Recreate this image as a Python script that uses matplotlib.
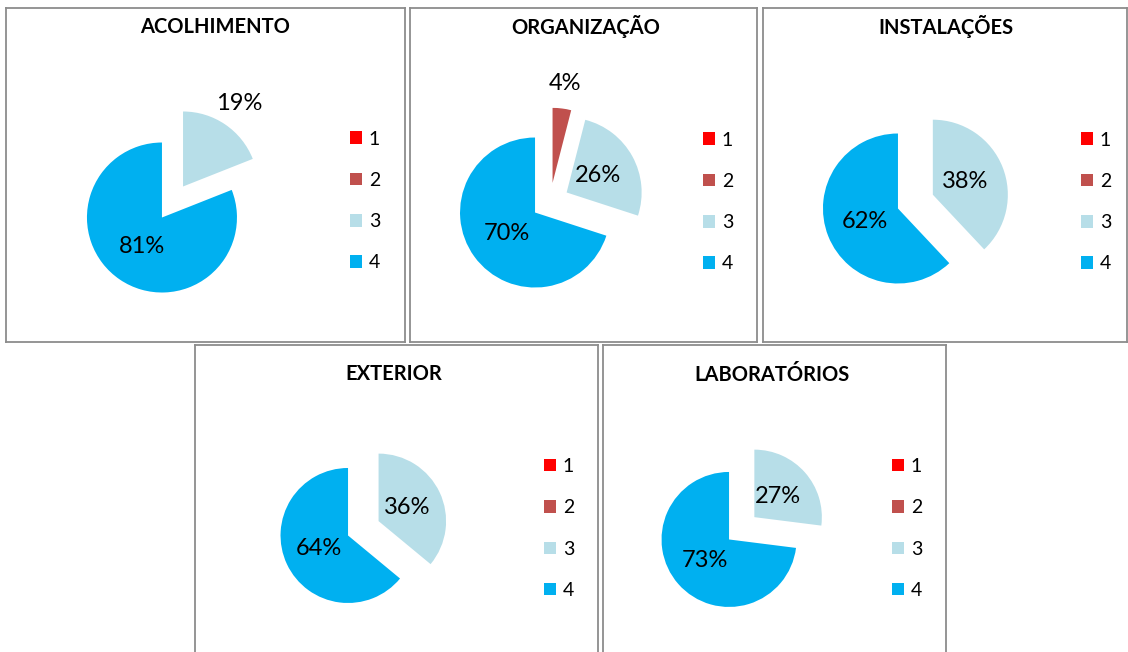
import matplotlib
matplotlib.use("Agg")
import matplotlib.pyplot as plt
import numpy as np

plt.rcParams['font.family'] = ['Lato', 'DejaVu Sans']

# data: share of answers 1..4 per topic (percent)
categories = ["1", "2", "3", "4"]
titles = ["ACOLHIMENTO", "ORGANIZAÇÃO", "INSTALAÇÕES", "EXTERIOR", "LABORATÓRIOS"]
acolhimento = [0, 0, 19, 81]
organizacao = [0, 4, 26, 70]
instalacoes = [0, 0, 38, 62]
exterior = [0, 0, 36, 64]
laboratorios = [0, 0, 27, 73]
series = [acolhimento, organizacao, instalacoes, exterior, laboratorios]

colors = ["#FF0000", "#C0504D", "#B7DEE8", "#00B0F0"]

W, H = 1128, 652
# panel boxes in pixels (x0, y0 top, x1, y1 bottom), pie centre, radius, title pos, legend x / centre y
panels = [
    dict(box=(6, 8, 405, 342), c=(172.5, 202), r=75, t=(215, 27), lx=350, ly=201),
    dict(box=(410, 8, 757, 342), c=(550.2, 201.5), r=75, t=(586, 27), lx=703, ly=202),
    dict(box=(763, 8, 1127, 342), c=(915.4, 201.6), r=75, t=(946, 27), lx=1081, ly=202),
    dict(box=(195, 345, 598, 662), c=(363.3, 528.3), r=67.5, t=(394, 374), lx=544, ly=528.5),
    dict(box=(603, 345, 946, 662), c=(741.7, 528.3), r=67.5, t=(772, 375), lx=892, ly=528.5),
]

fig = plt.figure(figsize=(W / 100, H / 100), dpi=100)

for p, title, vals in zip(panels, titles, series):
    x0, y0, x1, y1 = p["box"]
    ax = fig.add_axes([x0 / W, (H - y1) / H, (x1 - x0) / W, (y1 - y0) / H])
    r = p["r"]
    cx, cy = p["c"][0], H - p["c"][1]
    wedges, _ = ax.pie(vals, colors=colors, explode=[0.25 * r] * 4, radius=r,
                       center=(cx, cy), startangle=90, counterclock=False,
                       wedgeprops=dict(linewidth=0), frame=True)
    ax.set_aspect("auto")
    ax.set_xlim(x0, x1)
    ax.set_ylim(H - y1, H - y0)
    ax.set_xticks([])
    ax.set_yticks([])
    for s in ax.spines.values():
        s.set_color("#8c8c8c")
        s.set_linewidth(1.3)

    # percentage labels
    for w, v in zip(wedges, vals):
        if v == 0:
            continue
        ang = np.deg2rad((w.theta1 + w.theta2) / 2)
        k = 1.33 if v < 20 else 0.47
        wx, wy = w.center
        ax.text(wx + k * r * np.cos(ang), wy + k * r * np.sin(ang), f"{v}%",
                ha="center", va="center", fontsize=17, color="black")

    ax.text(p["t"][0], H - p["t"][1], title, ha="center", va="center",
            fontsize=14.5, fontweight="bold")

    ax.legend(wedges, categories, loc="center left",
              bbox_to_anchor=(p["lx"], H - p["ly"]),
              bbox_transform=ax.transData, frameon=False, fontsize=14,
              handlelength=0.62, handleheight=0.62, handletextpad=0.35,
              labelspacing=1.25, borderpad=0, borderaxespad=0)

fig.savefig("out.png", dpi=100)
